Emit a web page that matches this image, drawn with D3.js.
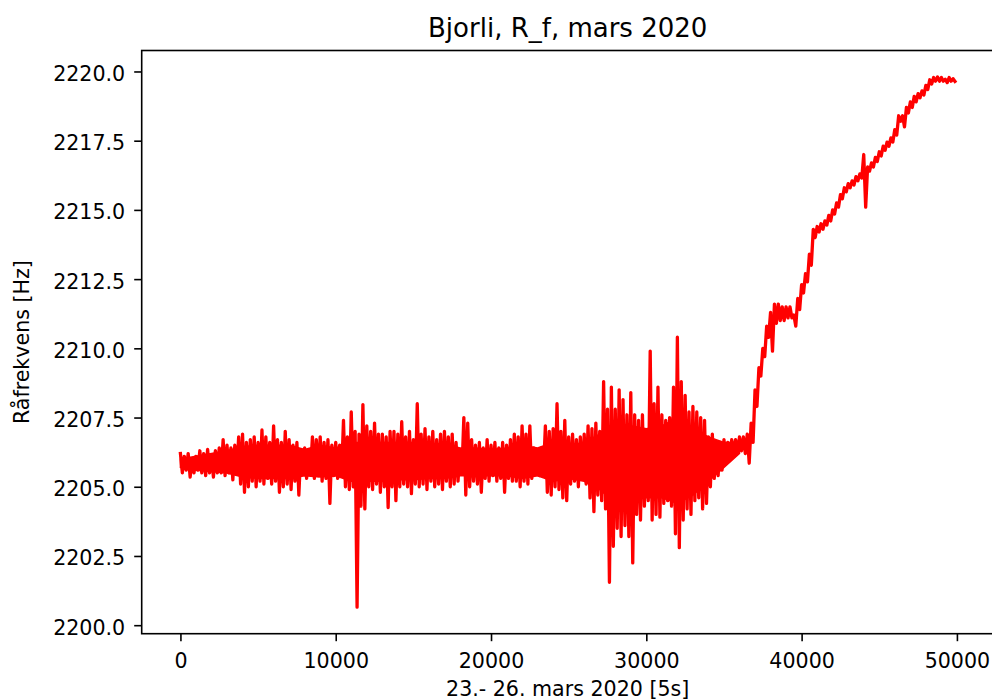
<!DOCTYPE html>
<html>
<head>
<meta charset="utf-8">
<script src="https://cdn.jsdelivr.net/npm/d3@7"></script>
<style>
  body { margin: 0; background: #fff; }
  svg text { font-family: "DejaVu Sans", sans-serif; fill: #000; }
</style>
</head>
<body>
<script>
//Texts of the chart
var title = "Bjorli, R_f, mars 2020";
var xLabel = "23.- 26. mars 2020 [5s]";
var yLabel = "Råfrekvens [Hz]";

//Tick values (as in the reference)
var xTicks = [0, 10000, 20000, 30000, 40000, 50000];
var yTicks = [2200, 2202.5, 2205, 2207.5, 2210, 2212.5, 2215, 2217.5, 2220];

//The signal in bins of 250 samples (5s each):
//for every bin the highest and the lowest value of the signal.
var binSize = 250;

//Noisy part, samples 0 - 36000
var noiseHi = [
  2206.2, 2206.1, 2206.2, 2206.0, 2206.1, 2206.3, 2206.2, 2206.35, 2206.1, 2206.3,
  2206.4, 2206.7, 2206.5, 2206.4, 2206.5, 2206.8, 2206.9, 2206.6, 2206.7, 2206.8,
  2206.6, 2207.05, 2206.8, 2206.6, 2207.2, 2206.7, 2206.6, 2207.0, 2206.7, 2206.5,
  2206.6, 2206.3, 2206.4, 2206.25, 2206.8, 2206.7, 2206.8, 2206.6, 2206.7, 2206.5,
  2206.6, 2206.5, 2207.4, 2206.8, 2207.7, 2207.0, 2206.9, 2207.97, 2207.2, 2207.0,
  2207.3, 2206.9, 2206.9, 2206.8, 2207.0, 2207.0, 2206.9, 2207.35, 2206.8, 2207.0,
  2206.7, 2208.0, 2206.9, 2207.1, 2206.8, 2207.0, 2206.7, 2206.9, 2207.0, 2206.8,
  2206.9, 2206.6, 2206.3, 2207.5, 2207.3, 2206.7, 2206.5, 2206.6, 2206.4, 2206.7,
  2206.5, 2206.6, 2206.4, 2206.6, 2206.5, 2206.7, 2206.9, 2206.8, 2207.2, 2206.9,
  2207.2, 2206.4, 2206.3, 2206.4, 2207.2, 2207.0, 2207.1, 2208.0, 2207.0, 2207.4,
  2206.8, 2206.9, 2206.7, 2206.8, 2206.9, 2207.2, 2207.1, 2207.3, 2207.0, 2208.8,
  2207.8, 2208.6, 2207.8, 2208.5, 2208.15, 2207.6, 2208.4, 2207.6, 2207.4, 2207.6,
  2207.0, 2209.9, 2208.0, 2208.6, 2207.6, 2207.4, 2207.5, 2208.6, 2210.4, 2208.8,
  2208.3, 2207.7, 2207.9, 2207.7, 2207.5, 2207.4, 2206.8, 2206.9, 2206.6, 2206.6,
  2206.7, 2206.6, 2206.7, 2206.7
];
var noiseLo = [
  2205.5, 2205.6, 2205.35, 2205.5, 2205.6, 2205.5, 2205.4, 2205.5, 2205.35, 2205.5,
  2205.5, 2205.4, 2205.5, 2205.25, 2205.45, 2205.1, 2204.8, 2205.0, 2205.2, 2205.0,
  2205.2, 2205.1, 2205.3, 2205.1, 2205.2, 2204.8, 2205.0, 2205.1, 2204.9, 2205.2,
  2204.7, 2205.5, 2205.3, 2205.5, 2205.3, 2205.4, 2205.2, 2205.3, 2204.4, 2205.4,
  2205.3, 2205.4, 2205.0, 2204.9, 2205.0, 2200.65, 2204.3, 2204.2, 2205.0, 2204.9,
  2205.1, 2204.8, 2205.0, 2204.25, 2205.0, 2204.5, 2205.0, 2205.1, 2205.0, 2204.75,
  2205.1, 2205.0, 2205.1, 2204.9, 2205.2, 2205.0, 2205.1, 2204.9, 2205.2, 2205.0,
  2205.1, 2205.2, 2205.5, 2204.7, 2205.0, 2205.2, 2205.1, 2204.8, 2205.3, 2205.2,
  2205.4, 2205.2, 2205.3, 2204.8, 2205.3, 2205.2, 2205.2, 2205.0, 2205.2, 2205.1,
  2205.3, 2205.5, 2205.4, 2205.5, 2204.8, 2204.7, 2205.0, 2204.9, 2204.6, 2204.5,
  2205.1, 2205.2, 2205.0, 2205.3, 2205.1, 2204.6, 2204.1, 2204.7, 2204.5, 2204.2,
  2201.55, 2202.85, 2203.5, 2203.2, 2203.6, 2203.2, 2202.25, 2204.0, 2203.8, 2204.3,
  2204.5, 2203.8, 2204.0, 2203.9, 2204.4, 2204.5, 2204.3, 2203.3, 2202.8, 2203.8,
  2204.2, 2204.0, 2204.5, 2204.6, 2204.2, 2204.4, 2205.0, 2205.3, 2205.4, 2205.6,
  2205.9, 2206.1, 2206.2, 2206.2
];

//Solid core of the noisy band, read every 1000 samples (0 - 36000)
var coreStep = 1000;
var coreHi = [
  2206.0, 2206.1, 2206.2, 2206.3, 2206.45, 2206.5, 2206.5, 2206.5, 2206.35, 2206.5,
  2206.4, 2206.6, 2206.6, 2206.6, 2206.6, 2206.6, 2206.55, 2206.55, 2206.4, 2206.4,
  2206.35, 2206.4, 2206.5, 2206.4, 2206.6, 2206.5, 2206.6, 2206.9, 2207.3, 2207.2,
  2207.1, 2207.2, 2207.5, 2207.1, 2206.8, 2206.6, 2206.6
];
var coreLo = [
  2205.7, 2205.6, 2205.55, 2205.5, 2205.35, 2205.3, 2205.3, 2205.3, 2205.4, 2205.35,
  2205.4, 2205.2, 2205.2, 2205.2, 2205.25, 2205.25, 2205.3, 2205.3, 2205.4, 2205.4,
  2205.4, 2205.4, 2205.3, 2205.4, 2205.2, 2205.3, 2205.2, 2204.9, 2204.4, 2204.5,
  2204.6, 2204.6, 2204.4, 2204.7, 2205.2, 2205.7, 2206.2
];

//Drift part, samples 36000 - 50000
var driftHi = [
  2206.8, 2206.8, 2206.9, 2207.3, 2208.5, 2209.3, 2210.0, 2210.8, 2211.3, 2211.6,
  2211.6, 2211.5, 2211.5, 2211.5, 2211.2, 2211.8, 2212.3, 2212.7, 2213.4, 2214.3,
  2214.4, 2214.5, 2214.6, 2214.8, 2215.0, 2215.25, 2215.55, 2215.8, 2215.95, 2216.05,
  2216.2, 2216.3, 2217.0, 2216.55, 2216.7, 2216.9, 2217.1, 2217.3, 2217.45, 2217.6,
  2217.9, 2218.4, 2218.4, 2218.7, 2218.9, 2219.1, 2219.2, 2219.3, 2219.5, 2219.7,
  2219.78, 2219.8, 2219.78, 2219.72, 2219.78, 2219.74
];
var driftLo = [
  2206.3, 2206.2, 2205.85, 2206.6, 2207.9, 2209.0, 2209.7, 2210.4, 2209.9, 2210.9,
  2211.0, 2211.0, 2211.1, 2211.1, 2210.8, 2211.4, 2212.0, 2212.4, 2213.0, 2214.0,
  2214.2, 2214.3, 2214.45, 2214.6, 2214.85, 2215.1, 2215.4, 2215.65, 2215.8, 2215.9,
  2216.05, 2216.15, 2215.1, 2216.4, 2216.55, 2216.75, 2216.95, 2217.15, 2217.3, 2217.45,
  2217.7, 2218.2, 2218.0, 2218.5, 2218.7, 2218.9, 2219.05, 2219.15, 2219.35, 2219.55,
  2219.65, 2219.65, 2219.65, 2219.6, 2219.65, 2219.64
];

//Size of the svg element and of the axes box
var width = 992;
var height = 700;
var margin = {left: 141.7, top: 50.5};
var plotW = 852;
var plotH = 583.2;
var red = "#ff0000";

//Building the points: top of every bin at its start, bottom half a bin later
var hi = noiseHi.concat(driftHi);
var lo = noiseLo.concat(driftLo);
var points = [];
hi.forEach(function (h, i) {
  points.push({x: i * binSize, y: h});
  points.push({x: i * binSize + binSize / 2, y: lo[i]});
});
var core = coreHi.map(function (h, i) {
  return {x: i * coreStep, hi: h, lo: coreLo[i]};
});

//Scales with a 5% margin on each side (like matplotlib)
var xExt = d3.extent(points, function (d) { return d.x; });
var yExt = d3.extent(points, function (d) { return d.y; });
var xPad = (xExt[1] - xExt[0]) * 0.05;
var yPad = (yExt[1] - yExt[0]) * 0.05;
var x = d3.scaleLinear().domain([xExt[0] - xPad, xExt[1] + xPad]).range([0, plotW]);
var y = d3.scaleLinear().domain([yExt[0] - yPad, yExt[1] + yPad]).range([plotH, 0]);

var svg = d3.select("body").append("svg")
  .attr("width", width)
  .attr("height", height);

var g = svg.append("g")
  .attr("transform", "translate(" + margin.left + "," + margin.top + ")");

//Solid core of the dense signal
var area = d3.area()
  .x(function (d) { return x(d.x); })
  .y0(function (d) { return y(d.lo); })
  .y1(function (d) { return y(d.hi); });

g.append("path")
  .datum(core)
  .attr("d", area)
  .attr("fill", red)
  .attr("stroke", red)
  .attr("stroke-width", 1.5);

//The signal
var line = d3.line()
  .x(function (d) { return x(d.x); })
  .y(function (d) { return y(d.y); });

g.append("path")
  .datum(points)
  .attr("d", line)
  .attr("fill", "none")
  .attr("stroke", red)
  .attr("stroke-width", 3.3)
  .attr("stroke-linejoin", "round")
  .attr("stroke-linecap", "square");

//Axes
var xAxis = g.append("g")
  .attr("transform", "translate(0," + plotH + ")")
  .call(d3.axisBottom(x).tickValues(xTicks).tickSize(7.5).tickSizeOuter(0)
    .tickFormat(d3.format("d")));
xAxis.selectAll("text").attr("y", 34.3).attr("dy", null);

var yAxis = g.append("g")
  .call(d3.axisLeft(y).tickValues(yTicks).tickSize(7.5).tickSizeOuter(0)
    .tickFormat(d3.format(".1f")));
yAxis.selectAll("text").attr("x", -16.5).attr("y", 9).attr("dy", null);

svg.selectAll(".tick line").attr("stroke", "#000").attr("stroke-width", 1.6);
svg.selectAll(".tick text").attr("font-size", "20.6px").attr("font-family", "DejaVu Sans");
svg.selectAll(".domain").remove();

//Frame round the plot
g.append("rect")
  .attr("x", 0)
  .attr("y", 0)
  .attr("width", plotW)
  .attr("height", plotH)
  .attr("fill", "none")
  .attr("stroke", "#000")
  .attr("stroke-width", 1.6);

//Title and axis labels
svg.append("text")
  .attr("x", margin.left + plotW / 2)
  .attr("y", 36.5)
  .attr("text-anchor", "middle")
  .attr("font-size", "26px")
  .text(title);

svg.append("text")
  .attr("x", margin.left + plotW / 2)
  .attr("y", 696)
  .attr("text-anchor", "middle")
  .attr("font-size", "20.6px")
  .text(xLabel);

svg.append("text")
  .attr("transform", "translate(29," + (margin.top + plotH / 2) + ") rotate(-90)")
  .attr("text-anchor", "middle")
  .attr("font-size", "20.6px")
  .text(yLabel);
</script>
</body>
</html>
